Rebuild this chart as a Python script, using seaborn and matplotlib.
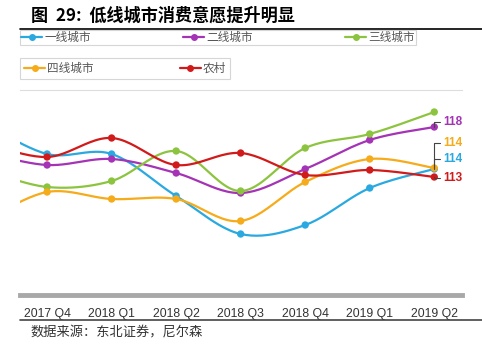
import numpy as np
import pandas as pd
import matplotlib
matplotlib.use("Agg")
import matplotlib.pyplot as plt
import seaborn as sns
from matplotlib.lines import Line2D

# 2017 Q3 sits just outside the visible window (lines enter from the left edge)
quarters = ["2017 Q3", "2017 Q4", "2018 Q1", "2018 Q2", "2018 Q3", "2018 Q4", "2019 Q1", "2019 Q2"]
tier1 = [118.5, 115.3, 115.3, 111.1, 107.3, 108.2, 111.9, 113.8]
tier2 = [115.5, 114.2, 114.8, 113.4, 111.4, 113.8, 116.7, 118.0]
tier3 = [113.8, 112.0, 112.6, 115.6, 111.6, 115.9, 117.3, 119.5]
tier4 = [108.5, 111.5, 110.8, 110.8, 108.6, 112.5, 114.8, 113.9]
rural = [116.5, 115.0, 116.9, 114.2, 115.4, 113.2, 113.7, 113.0]

names = ["一线城市", "二线城市", "三线城市", "四线城市", "农村"]
colors = ["#2aa9e0", "#a433b5", "#8cc43f", "#f6ab1a", "#d11a1a"]
series = [tier1, tier2, tier3, tier4, rural]


def smooth(y, n=24):
    # Catmull-Rom curve through the points, like the smoothed lines in the source
    x = np.arange(len(y), dtype=float)
    p = np.column_stack([x, y])
    p = np.vstack([p[0], p, p[-1]])
    out = []
    t = np.linspace(0, 1, n, endpoint=False)[:, None]
    for i in range(1, len(p) - 2):
        p0, p1, p2, p3 = p[i - 1], p[i], p[i + 1], p[i + 2]
        seg = 0.5 * (2 * p1 + (-p0 + p2) * t + (2 * p0 - 5 * p1 + 4 * p2 - p3) * t ** 2
                     + (-p0 + 3 * p1 - 3 * p2 + p3) * t ** 3)
        out.append(seg)
    out.append(p[-2][None])
    return np.vstack(out)


curves = []
points = []
for name, vals in zip(names, series):
    c = smooth(vals)
    curves.append(pd.DataFrame({"x": c[:, 0], "y": c[:, 1], "series": name}))
    points.append(pd.DataFrame({"x": np.arange(len(vals)), "y": vals, "series": name}))
curves = pd.concat(curves, ignore_index=True)
points = pd.concat(points, ignore_index=True)

sns.set_style("white")
plt.rcParams["font.family"] = ["Noto Sans CJK SC", "DejaVu Sans"]

W, H = 482, 354
fig = plt.figure(figsize=(W / 100, H / 100), dpi=100)
ax = fig.add_axes([20 / W, 1 - 295 / H, 442 / W, 205 / H])

palette = dict(zip(names, colors))
sns.lineplot(data=curves, x="x", y="y", hue="series", palette=palette, sort=False,
             estimator=None, linewidth=1.6, legend=False, ax=ax)
sns.scatterplot(data=points, x="x", y="y", hue="series", palette=palette, s=28,
                edgecolor="none", legend=False, ax=ax, zorder=3)

ax.set_xlim(0.58, 7.43)
ax.set_ylim(101.2, 121.7)
ax.set_xticks(range(1, len(quarters)))
ax.set_xticklabels(quarters[1:], fontsize=8.8, color="#333333", family="Liberation Sans")
ax.tick_params(axis="x", length=0, pad=9)
ax.set_yticks([])
ax.set_xlabel("")
ax.set_ylabel("")
for s in ["left", "right"]:
    ax.spines[s].set_visible(False)
ax.spines["top"].set_color("#dddddd")
ax.spines["top"].set_linewidth(0.8)
ax.spines["bottom"].set_color("#a8a8a8")
ax.spines["bottom"].set_linewidth(3.5)

# end labels with leader lines
last = len(quarters) - 1
label_offsets = {"二线城市": 5, "四线城市": 25, "一线城市": 10, "农村": -1}
for name, vals, col in zip(names, series, colors):
    if name not in label_offsets:
        continue
    dy = label_offsets[name] * 0.72
    ax.annotate(f"{vals[-1]:.0f}", xy=(last, vals[-1]), xytext=(6.5, dy),
                textcoords="offset points", va="center", ha="left", color=col,
                fontsize=8.5, fontweight="bold", family="Liberation Sans",
                arrowprops=dict(arrowstyle="-", color="#444444", lw=0.8,
                                shrinkA=0, shrinkB=0,
                                connectionstyle="angle,angleA=0,angleB=90,rad=0"))

# legend in two boxed rows
handles = [Line2D([], [], color=c, marker="o", markersize=4, lw=1.6, label=n)
           for n, c in zip(names, colors)]
leg_kw = dict(loc="upper left", frameon=True, fancybox=False, borderaxespad=0,
              handlelength=1.8, handletextpad=0.2, numpoints=1,
              prop={"size": 8.4}, labelcolor="#555555", edgecolor="#cccccc")
leg1 = fig.legend(handles=handles[:3], ncol=3, bbox_to_anchor=(20 / W, 1 - 30 / H),
                  borderpad=0.1, columnspacing=7.9, **leg_kw)
leg1.get_frame().set_linewidth(0.8)
leg2 = fig.legend(handles=handles[3:], ncol=2, bbox_to_anchor=(20 / W, 1 - 58 / H),
                  borderpad=0.35, columnspacing=7.35, **leg_kw)
leg2.get_frame().set_linewidth(0.8)

fig.text(31 / W, 1 - 16 / H, "图  29:  低线城市消费意愿提升明显", fontsize=12.3,
         fontweight="bold", va="center", ha="left", color="black")
fig.add_artist(Line2D([20 / W, 1], [1 - 29 / H, 1 - 29 / H], color="black", lw=1.2))
fig.add_artist(Line2D([20 / W, 1], [1 - 320 / H, 1 - 320 / H], color="#444444", lw=1.2))
fig.text(30 / W, 1 - 333 / H, "数据来源：东北证券，尼尔森", fontsize=9.5,
         va="center", ha="left", color="#333333")

fig.savefig("out.png", dpi=100)
